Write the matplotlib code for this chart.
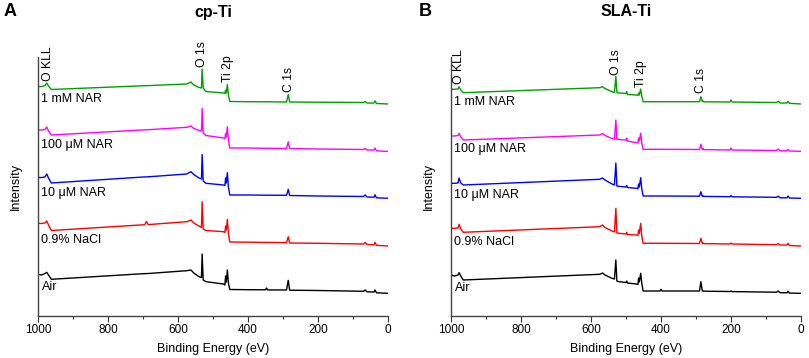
import matplotlib
matplotlib.use("Agg")
from matplotlib import pyplot as plt
from matplotlib.ticker import MultipleLocator

plt.rcParams["font.family"] = ["Liberation Sans", "DejaVu Sans"]

samples = ["Air", "0.9% NaCl", "10 μM NAR", "100 μM NAR", "1 mM NAR"]
colors = ["#000000", "#ff0000", "#0000ff", "#ff00ff", "#00a000"]
peaks = ["O KLL", "O 1s", "Ti 2p", "C 1s"]

# cp-Ti survey spectra (stacked, arbitrary units)
energy_a = [1000, 990, 980, 975, 970, 962, 695, 690, 685, 575, 563, 555, 540,
            533, 531, 528, 520, 470, 466, 464, 462, 459, 456, 452, 400, 350,
            347, 344, 290, 285, 281, 200, 70, 65, 60, 40, 37, 33, 0]
air_a = [41.7, 41, 42.5, 43.7, 41, 36.7, 42.4, 42.4, 42.5, 45.3, 46, 43, 39.3,
         38.5, 62, 36, 34.3, 32, 31, 40, 34, 46, 33, 26.5, 26.3, 26.2,
         28, 26.1, 26, 35.7, 25.8, 25.5, 24.7, 26, 24.2, 24, 26, 23.2, 22.7]
nacl_a = [92.7, 92.5, 93, 95, 91, 85.5, 91.3, 94.5, 91.4, 94.3, 96, 93, 90,
          88.5, 114.3, 87, 85.5, 84.3, 83.5, 90, 86, 96.7, 82, 74, 73.8, 73.6,
          73.6, 73.6, 73.3, 79.3, 73, 72.7, 72, 73.5, 71.5, 71.2, 73.7, 70.7, 70]
nar10_a = [138.5, 138.5, 139, 142, 138, 133, 139.1, 139.1, 139.2, 142, 144.3,
           141.5, 138, 137, 161.5, 135, 132.7, 131, 130.5, 138, 133, 143.3, 129,
           121, 121, 120.8, 120.8, 120.8, 120.7, 126.7, 120.5, 120, 119.5, 121,
           119, 118.8, 121.2, 118.2, 117.7]
nar100_a = [186, 186, 186.5, 189, 185, 181, 186.2, 186.2, 186.3, 188.7, 190,
            187.5, 185.5, 185, 207.7, 183, 180.5, 178, 177.5, 182.5, 179, 189.3,
            176, 168, 168, 167.7, 167.7, 167.7, 167.5, 174.2, 167.5, 167, 166.5,
            167.5, 166, 166, 168, 165.2, 164.5]
nar1000_a = [229.5, 229.5, 230.5, 233, 230, 226.5, 230.3, 230.3, 230.4, 232,
             234, 231, 228.5, 228, 247, 228, 224.5, 223, 222.5, 226, 223, 231.5,
             221, 214.5, 214.3, 214.2, 214.2, 214.2, 214, 221.5, 214, 213.8,
             213.5, 214.5, 213, 213, 215.2, 212.5, 212]

# SLA-Ti survey spectra
energy_b = [1000, 990, 980, 977, 972, 965, 575, 567, 560, 540, 533, 529, 526,
            520, 500, 498, 496, 470, 466, 464, 462, 458, 455, 451, 403, 400,
            397, 290, 286, 282, 280, 278, 203, 200, 197, 70, 65, 60, 40, 37,
            33, 0]
air_b = [41, 40, 41, 43.3, 40, 36, 41.7, 43, 41, 37.7, 37, 56, 35, 34.3, 33.5,
         35, 33, 32, 31.5, 38, 34, 42.7, 33, 25, 25, 26.7, 25, 25, 34.3, 25,
         25.3, 24.8, 24.5, 25, 24.4, 23.8, 25, 23.3, 23.2, 24.8, 22.9, 22.7]
nacl_b = [87.7, 87.7, 88, 91.7, 87, 83.7, 89.3, 91, 88.5, 85, 84, 107.7, 83,
          82.7, 82, 83.5, 81.5, 81, 80.5, 86, 82.5, 92.7, 80, 72.7, 72.7, 72.7,
          72.7, 72.5, 77.7, 72.5, 73, 72.4, 72, 73, 72, 71.3, 72.5, 71, 71,
          72.7, 70.5, 70]
nar10_b = [132.7, 132.7, 133, 138, 133, 131, 136.7, 138, 136, 132, 131, 153,
           130, 129.7, 129, 130.5, 128.5, 127.7, 127.2, 132, 129, 138.3, 127,
           120, 120, 120, 120, 119.8, 124.3, 119.7, 120.2, 119.6, 119.3, 120.5,
           119.2, 118.7, 119.8, 118.2, 118.2, 120, 118, 117.7]
nar100_b = [180, 180, 180.5, 182.7, 179, 176, 181, 182.5, 180.5, 177.5, 177,
            196, 177, 176.5, 176, 178, 175, 173.3, 173, 178, 175, 182.7, 173,
            166.7, 166.7, 166.7, 166.7, 166.5, 171.7, 166.5, 167.5, 166.4, 166,
            168, 166, 165.5, 167, 165.2, 165.2, 166.7, 165, 164.7]
nar1000_b = [226.7, 226.7, 227, 229.3, 226, 223.3, 228.3, 229.3, 227.5, 224.3,
             223.5, 239.7, 223.5, 223, 222.5, 224.5, 221.5, 221, 220.5, 223,
             221, 227, 220, 214.3, 214.3, 214.3, 214.3, 214.3, 219.3, 214.3,
             215, 214.2, 214, 216, 214, 213.5, 214.7, 213, 213, 214.7, 212.7,
             212]

peak_pos_a = [972, 530, 458, 284]
peak_pos_b = [977, 528, 457, 286]
label_y_a = [29, 76, 123, 171, 217]
label_y_b = [28, 74, 121, 167, 214]


def draw_panel(ax, energy, spectra, peak_pos, peak_y, label_y):
    for series, color in zip(spectra, colors):
        ax.plot(energy, series, color=color, linewidth=1.0)
    for name, y in zip(samples, label_y):
        ax.text(990, y, name, fontsize=9, ha="left", va="center")
    for name, e, y in zip(peaks, peak_pos, peak_y):
        ax.text(e, y, name, fontsize=8.8, rotation=90, ha="center",
                va="bottom", clip_on=False)
    ax.set_xlim(1000, 0)
    ax.set_ylim(0, 259)
    ax.set_yticks([])
    ax.xaxis.set_major_locator(MultipleLocator(200))
    ax.xaxis.set_minor_locator(MultipleLocator(100))
    ax.tick_params(axis="x", which="major", length=4, width=0.8,
                   labelsize=8.5, pad=2, color="#333333")
    ax.tick_params(axis="x", which="minor", length=2.5, width=0.8,
                   color="#333333")
    for side in ["top", "right"]:
        ax.spines[side].set_visible(False)
    for side in ["left", "bottom"]:
        ax.spines[side].set_color("#444444")
        ax.spines[side].set_linewidth(1.0)
    ax.set_xlabel("Binding Energy (eV)", fontsize=9, labelpad=5)
    ax.set_ylabel("Intensity", fontsize=9)
    ax.yaxis.set_label_coords(-0.046, 0.5)


fig = plt.figure(figsize=(8.09, 3.58), dpi=100)
ax_a = fig.add_axes([38 / 809, 42 / 358, 350 / 809, 259 / 358])
ax_b = fig.add_axes([451 / 809, 42 / 358, 350 / 809, 259 / 358])

draw_panel(ax_a, energy_a, [air_a, nacl_a, nar10_a, nar100_a, nar1000_a],
           peak_pos_a, [235, 249, 234, 224], label_y_a)
draw_panel(ax_b, energy_b, [air_b, nacl_b, nar10_b, nar100_b, nar1000_b],
           peak_pos_b, [232, 241, 229, 223], label_y_b)

fig.text(213 / 809, 1 - 12 / 358, "cp-Ti", fontsize=11.5, fontweight="bold",
         ha="center", va="center")
fig.text(626 / 809, 1 - 12 / 358, "SLA-Ti", fontsize=11.5, fontweight="bold",
         ha="center", va="center")
fig.text(10 / 809, 1 - 12 / 358, "A", fontsize=13, fontweight="bold",
         ha="center", va="center")
fig.text(425 / 809, 1 - 12 / 358, "B", fontsize=13, fontweight="bold",
         ha="center", va="center")

fig.savefig("out.png", dpi=100)
